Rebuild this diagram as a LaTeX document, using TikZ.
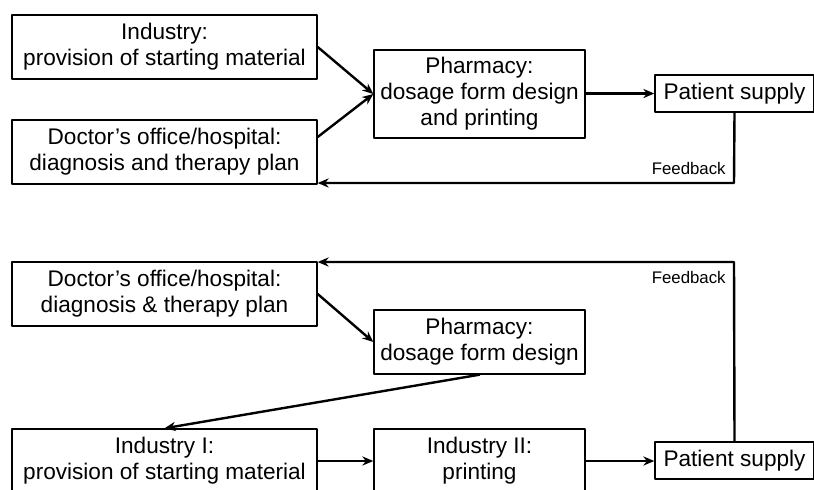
\documentclass[tikz,border=0pt]{standalone}
\usepackage{fontspec}
\setmainfont{Liberation Sans}
\usetikzlibrary{arrows.meta}

\begin{document}
\begin{tikzpicture}[x=0.5pt, y=-0.5pt, >={Stealth[length=5.5pt,width=4.6pt,inset=1.8pt]}, line cap=round, line join=round,
		box/.style={draw, line width=0.7pt, align=center, inner sep=0pt, font=\fontsize{11.3}{13}\selectfont},
		wide/.style={box, minimum width=152.5pt, minimum height=32pt},
		mid/.style={box, minimum width=105.5pt, minimum height=32pt},
		supply/.style={box, minimum width=79.5pt, minimum height=18.5pt},
		flow/.style={->, line width=1.2pt},
		fb/.style={font=\fontsize{8.4}{10}\selectfont, inner sep=1pt}]
			\useasboundingbox (0,0) rectangle (814,489);
			\clip (0,0) rectangle (814,489);
			% upper scheme: pharmacy designs and prints
			\node[wide] (ind) at (164.5,47) {Industry:\\provision of starting material};
			\node[wide] (doc) at (164.5,152) {Doctor’s office/hospital:\\diagnosis and therapy plan};
			\node[mid, minimum height=44pt] (pha) at (479.5,94) {Pharmacy:\\dosage form design\\and printing};
			\node[supply] (pat) at (734.5,93.5) {Patient supply};
			\coordinate (fbA) at (734,183);
			\draw[flow] (ind.east) -- (pha.west);
			\draw[flow] ([yshift=7.5pt]doc.east) -- (pha.west);
			\draw[flow] (pha.east |- pat.west) -- (pat.west);
			\draw[flow] (pat.south) -- (fbA) -- (fbA -| doc.east);
			\node[fb, anchor=south east] (fbtxtA) at ([xshift=-3pt, yshift=3pt]fbA) {Feedback};
			% lower scheme: industry prints
			\node[wide] (docII) at (164.5,294) {Doctor’s office/hospital:\\diagnosis \& therapy plan};
			\node[mid] (phaII) at (479.5,342) {Pharmacy:\\dosage form design};
			\node[wide] (indI) at (164.5,461) {Industry I:\\provision of starting material};
			\node[mid] (indII) at (479.5,461) {Industry II:\\printing};
			\node[supply] (patII) at (734.5,460.5) {Patient supply};
			\coordinate (fbB) at (734,262);
			\draw[flow] (docII.east) -- (phaII.west);
			\draw[flow] (phaII.south) -- (indI.north);
			\draw[flow] (indI.east) -- (indII.west);
			\draw[flow] (indII.east) -- (indII.east -| patII.west);
			\draw[flow] (patII.north) -- (fbB) -- (fbB -| docII.east);
			\node[fb, anchor=north east] (fbtxtB) at ([xshift=-3pt, yshift=-3.5pt]fbB) {Feedback};
		\end{tikzpicture}
\end{document}
